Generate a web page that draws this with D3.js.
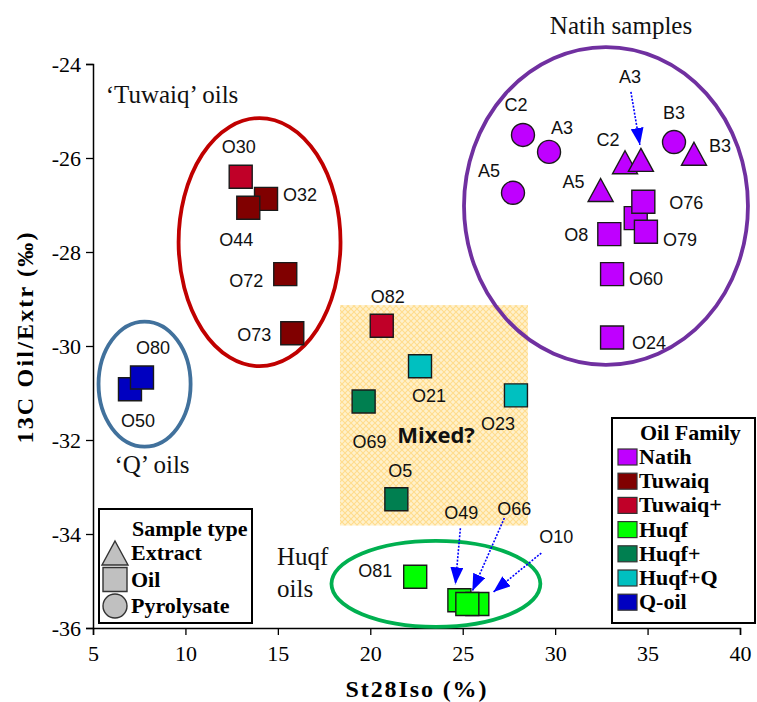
<!DOCTYPE html>
<html><head><meta charset="utf-8">
<script src="https://cdn.jsdelivr.net/npm/d3@7"></script>
<style>body{margin:0;background:#fff}</style>
</head><body><svg id="c" width="757" height="702"></svg>
<script>
// ---------- data ----------
const sampleIds  = ["C2","A3","A5","B3","C2","A3","A5","B3","","O76","O79","O8","O60","O24","O30","O32","O44","O72","O73","O50","O80","O82","O21","O23","O69","O5","O81","O49","O10","O66"];
const st28Iso    = [28.26,29.67,27.72,36.43,33.78,34.64,32.46,37.51,34.36,34.77,34.91,32.93,33.08,33.08,12.99,14.36,13.40,15.40,15.78,7.00,7.65,20.62,22.69,27.88,19.64,21.41,22.43,24.82,25.79,25.25];
const d13C       = [-25.51,-25.87,-26.74,-25.66,-26.09,-26.04,-26.68,-25.91,-27.28,-26.93,-27.57,-27.62,-28.47,-29.82,-26.40,-26.87,-27.06,-28.47,-29.73,-30.92,-30.67,-29.57,-30.43,-31.05,-31.18,-33.26,-34.91,-35.41,-35.49,-35.49];
const oilFamily  = ["Natih","Natih","Natih","Natih","Natih","Natih","Natih","Natih","Natih","Natih","Natih","Natih","Natih","Natih","Tuwaiq+","Tuwaiq","Tuwaiq","Tuwaiq","Tuwaiq","Q-oil","Q-oil","Tuwaiq+","Huqf+Q","Huqf+Q","Huqf+","Huqf+","Huqf","Huqf","Huqf","Huqf"];
const sampleType = ["Pyrolysate","Pyrolysate","Pyrolysate","Pyrolysate","Extract","Extract","Extract","Extract","Oil","Oil","Oil","Oil","Oil","Oil","Oil","Oil","Oil","Oil","Oil","Oil","Oil","Oil","Oil","Oil","Oil","Oil","Oil","Oil","Oil","Oil"];

const familyNames = ["Natih","Tuwaiq","Tuwaiq+","Huqf","Huqf+","Huqf+Q","Q-oil"];
const typeNames   = ["Extract","Oil","Pyrolysate"];
const xTicks = [5,10,15,20,25,30,35,40];
const yTicks = [-36,-34,-32,-30,-28,-26,-24];

// ---------- styles / layout ----------
const familyColor = {"Natih":"#BF00FF","Tuwaiq":"#800000","Tuwaiq+":"#C00028","Huqf":"#00FF00","Huqf+":"#007F50","Huqf+Q":"#00C0C0","Q-oil":"#0000C0"};
// label offsets (px) relative to each point
const labelDx = [-7,13,-24,0,-17,-11,-27,26,0,43,34,-33,34,37,-2,34,-12,-39,-38,8,11,6,9,-18,6,4,-40,2,79,47];
const labelDy = [-30,-24,-22,-29,-22,-83,-8,-8,0,1,8,1,5,5,-30,-4,32,7,2,32,-29,-29,30,29,41,-28,-6,-87,-67,-95];
// dotted arrows: point index, start offset, end offset
const arrows = [
  {i:5,  sx:-10, sy:-68, ex:-1, ey:-15},
  {i:27, sx:1,   sy:-72, ex:-4, ey:-16},
  {i:29, sx:37,  sy:-86, ex:5,  ey:-13},
  {i:28, sx:64,  sy:-51, ex:16, ey:-12}
];
const ellipses = [
  {cx:32.75, cy:-27.02, rx:7.68, ry:3.38, color:"#7030A0"},
  {cx:14.01, cy:-27.79, rx:4.38, ry:2.64, color:"#C00000"},
  {cx:7.79,  cy:-30.81, rx:2.49, ry:1.33, color:"#41719C"},
  {cx:23.55, cy:-35.06, rx:5.65, ry:0.915, color:"#00B050"}
];
const mixedBox = {x0:18.36, x1:28.53, y0:-29.13, y1:-33.82};

const svg = d3.select("#c");
const x = d3.scaleLinear().domain([5,40]).range([93,740]);
const y = d3.scaleLinear().domain([-36,-24]).range([628,64]);
const serif = "'Liberation Serif','Times New Roman',serif";
const sans = "'Liberation Sans',Arial,sans-serif";

// pattern
const defs = svg.append("defs");
const pat = defs.append("pattern").attr("id","hatch").attr("width",6).attr("height",6).attr("patternUnits","userSpaceOnUse");
pat.append("rect").attr("width",6).attr("height",6).attr("fill","#FFF1CC");
pat.append("path").attr("d","M0,0L6,6M6,0L0,6").attr("stroke","#FFDC8C").attr("stroke-width",1.1);
defs.append("marker").attr("id","ah").attr("viewBox","0 0 10 10").attr("refX",10).attr("refY",5)
  .attr("markerWidth",17).attr("markerHeight",13).attr("markerUnits","userSpaceOnUse").attr("orient","auto")
  .attr("preserveAspectRatio","none")
  .append("path").attr("d","M0,0L10,5L0,10Z").attr("fill","#0000FF");

// mixed region
svg.append("rect").attr("x",x(mixedBox.x0)).attr("y",y(mixedBox.y0))
  .attr("width",x(mixedBox.x1)-x(mixedBox.x0)).attr("height",y(mixedBox.y1)-y(mixedBox.y0))
  .attr("fill","url(#hatch)");

// axes
const gx = svg.append("g").attr("transform","translate(0,628)");
gx.call(d3.axisBottom(x).tickValues(d3.range(5,41,1)).tickSize(4).tickFormat(""));
gx.call(d3.axisBottom(x).tickValues(xTicks).tickSize(7).tickFormat(d=>String(d)));
gx.selectAll(".domain").attr("stroke-width",1.5);
gx.selectAll("line").attr("stroke-width",1.3);
gx.selectAll("text").attr("font-family",serif).attr("font-size",22).attr("dy","1.05em");

const gy = svg.append("g").attr("transform","translate(93,0)");
gy.call(d3.axisLeft(y).tickValues(d3.range(-36,-23,1)).tickSize(4).tickFormat(""));
gy.call(d3.axisLeft(y).tickValues(yTicks).tickSize(7).tickFormat(d=>String(d)));
gy.selectAll(".domain").attr("stroke-width",1.5);
gy.selectAll("line").attr("stroke-width",1.3);
gy.selectAll("text").attr("font-family",serif).attr("font-size",22).attr("x",-12);

svg.append("text").attr("x",416).attr("y",697).attr("text-anchor","middle")
  .attr("font-family",serif).attr("font-weight","bold").attr("font-size",24)
  .attr("textLength",141).attr("lengthAdjust","spacing").text("St28Iso (%)");
svg.append("text").attr("transform","translate(33,338) rotate(-90)").attr("text-anchor","middle")
  .attr("font-family",serif).attr("font-weight","bold").attr("font-size",24)
  .attr("textLength",211).attr("lengthAdjust","spacing").text("13C Oil/Extr (‰)");

// ellipses
svg.selectAll("ellipse.grp").data(ellipses).join("ellipse")
  .attr("cx",d=>x(d.cx)).attr("cy",d=>y(d.cy))
  .attr("rx",d=>x(d.cx+d.rx)-x(d.cx)).attr("ry",d=>y(d.cy-d.ry)-y(d.cy))
  .attr("fill","none").attr("stroke",d=>d.color).attr("stroke-width",3.8);

// symbols
function symPath(type, s){
  if(type==="Oil") return `M${-s/2},${-s/2}h${s}v${s}h${-s}Z`;
  if(type==="Pyrolysate"){const r=s/2;return `M${-r},0a${r},${r} 0 1,0 ${2*r},0a${r},${r} 0 1,0 ${-2*r},0Z`;}
  const h=s; return `M0,${-h/2}L${s/2+1},${h/2}L${-s/2-1},${h/2}Z`;
}
const idx = d3.range(sampleIds.length);
svg.append("g").selectAll("path").data(idx).join("path")
  .attr("transform",i=>`translate(${x(st28Iso[i])},${y(d13C[i])})`)
  .attr("d",i=>symPath(sampleType[i], 23))
  .attr("fill",i=>familyColor[oilFamily[i]]).attr("stroke","#1a1a1a").attr("stroke-width",1.4);

// labels
svg.append("g").selectAll("text").data(idx.filter(i=>sampleIds[i])).join("text")
  .attr("x",i=>x(st28Iso[i])+labelDx[i]).attr("y",i=>y(d13C[i])+labelDy[i])
  .attr("text-anchor","middle").attr("dominant-baseline","central")
  .attr("font-family",sans).attr("font-size",18).attr("fill","#111").text(i=>sampleIds[i]);

// arrows
svg.append("g").selectAll("line").data(arrows).join("line")
  .attr("x1",a=>x(st28Iso[a.i])+a.sx).attr("y1",a=>y(d13C[a.i])+a.sy)
  .attr("x2",a=>x(st28Iso[a.i])+a.ex).attr("y2",a=>y(d13C[a.i])+a.ey)
  .attr("stroke","#0000FF").attr("stroke-width",1.6).attr("stroke-dasharray","2,1.5")
  .attr("marker-end","url(#ah)");

// annotations
const ann = [
  {t:"Natih samples", x:621, y:34, a:"middle"},
  {t:"\u2018Tuwaiq\u2019 oils", x:172, y:103, a:"middle"},
  {t:"\u2018Q\u2019 oils", x:152, y:473, a:"middle"},
  {t:"Huqf", x:277, y:565, a:"start"},
  {t:"oils", x:277, y:597, a:"start"}
];
svg.append("g").selectAll("text").data(ann).join("text")
  .attr("x",d=>d.x).attr("y",d=>d.y).attr("text-anchor",d=>d.a)
  .attr("font-family",serif).attr("font-size",25).attr("fill","#111").text(d=>d.t);
svg.append("text").attr("x",436).attr("y",443).attr("text-anchor","middle")
  .attr("font-family","'Open Sans',sans-serif").attr("font-weight","bold").attr("font-size",22)
  .attr("fill","#111").text("Mixed?");

// legend: sample type
const lg1 = svg.append("g");
lg1.append("rect").attr("x",99).attr("y",509).attr("width",153).attr("height",114)
  .attr("fill","#fff").attr("stroke","#000").attr("stroke-width",2);
lg1.append("text").attr("x",132).attr("y",536).attr("font-family",serif).attr("font-weight","bold")
  .attr("font-size",22).text("Sample type");
typeNames.forEach((t,k)=>{
  const cy = 553 + k*26.5;
  lg1.append("path").attr("transform",`translate(115,${cy})`).attr("d",symPath(t,24))
    .attr("fill","#C0C0C0").attr("stroke","#333").attr("stroke-width",1.4);
  lg1.append("text").attr("x",131).attr("y",cy+7).attr("font-family",serif).attr("font-weight","bold")
    .attr("font-size",22).text(t);
});

// legend: oil family
const lg2 = svg.append("g");
lg2.append("rect").attr("x",612).attr("y",418).attr("width",143).attr("height",205)
  .attr("fill","#fff").attr("stroke","#000").attr("stroke-width",2);
lg2.append("text").attr("x",640).attr("y",440).attr("font-family",serif).attr("font-weight","bold")
  .attr("font-size",22).text("Oil Family");
familyNames.forEach((f,k)=>{
  const cy = 457 + k*24.2;
  lg2.append("rect").attr("x",618).attr("y",cy-8).attr("width",19).attr("height",16)
    .attr("fill",familyColor[f]).attr("stroke","#333").attr("stroke-width",1.2);
  lg2.append("text").attr("x",639).attr("y",cy+7).attr("font-family",serif).attr("font-weight","bold")
    .attr("font-size",22).text(f);
});
</script></body></html>
